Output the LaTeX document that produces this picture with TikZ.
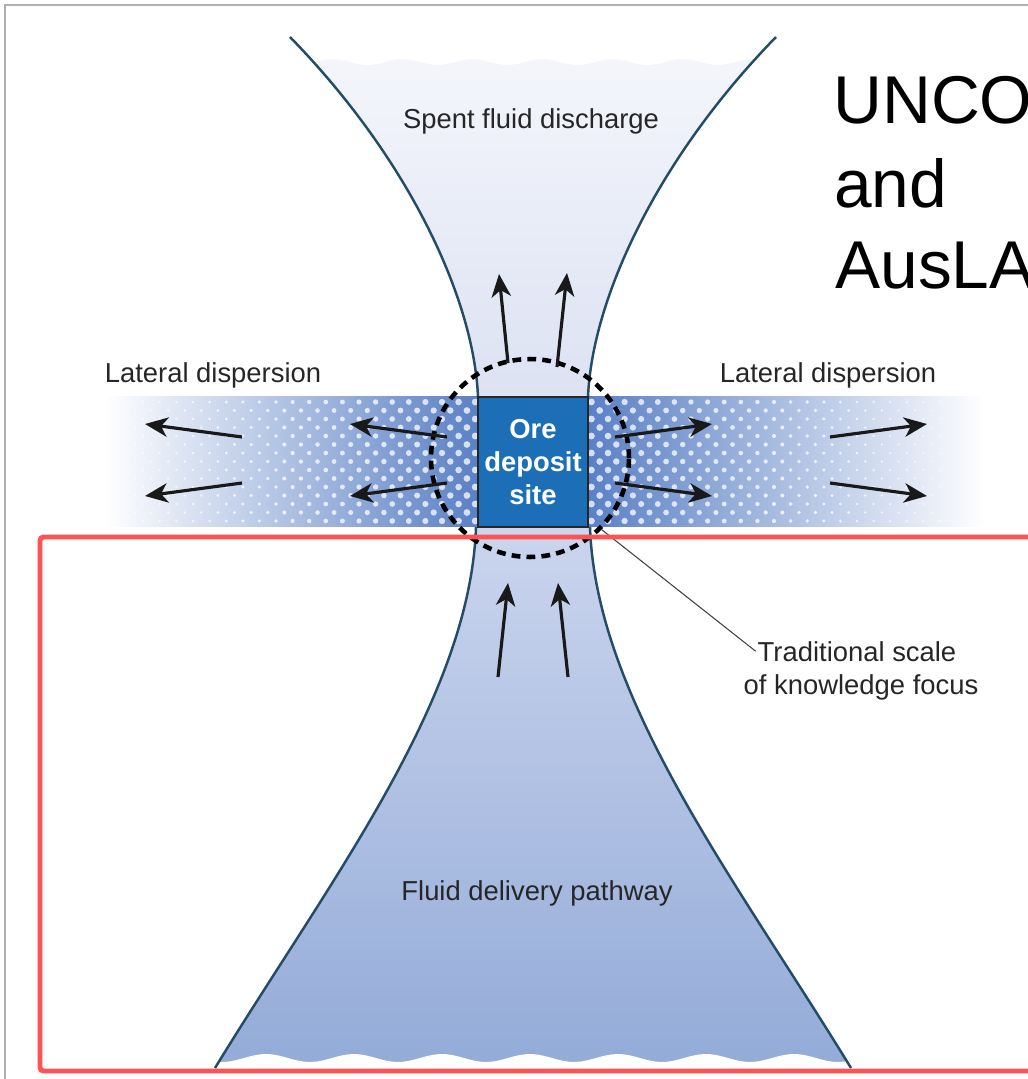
\documentclass[tikz,border=0pt]{standalone}
\usepackage{fontspec}
\setmainfont{Liberation Sans}
\usetikzlibrary{arrows.meta, positioning}
\definecolor{flowline}{HTML}{234C66}
\definecolor{oreblue}{HTML}{1C6EB6}
\definecolor{bandblue}{HTML}{5A80C5}
\definecolor{spenttop}{HTML}{F6F7FC}
\definecolor{spentbot}{HTML}{DCE2F3}
\definecolor{pathtop}{HTML}{CBD5EE}
\definecolor{pathbot}{HTML}{93ABD8}
\definecolor{markred}{HTML}{FF5252}
\definecolor{framegray}{HTML}{B0B0B0}

\begin{document}
\begin{tikzpicture}[
    x=0.02cm, y=-0.02cm,
    lbl/.style={
        inner sep=0pt,
        text=black!85,
        font=\fontsize{15.6}{18.7}\selectfont
    },
    bigtxt/.style={
        inner sep=0pt,
        anchor=base west,
        font=\fontsize{38.5}{46}\selectfont
    },
    ore/.style={
        rectangle,
        minimum width=2.2cm,
        minimum height=2.6cm,
        draw=black!85,
        line width=1.2pt,
        fill=oreblue,
        text=white,
        align=center,
        font=\bfseries\fontsize{15.6}{19}\selectfont
    },
    focus/.style={
        circle,
        minimum size=3.96cm,
        inner sep=0pt,
        draw=black,
        line width=2.6pt,
        dash pattern=on 5pt off 3.5pt
    },
    flow/.style={
        -{Stealth[length=13pt, width=11pt, inset=3.8pt]},
        line width=1.8pt,
        black!90
    },
    boundary/.style={
        draw=flowline,
        line width=1.4pt
    },
    leader/.style={
        line width=0.6pt,
        black!75
    }
]
\useasboundingbox (0,0) rectangle (1028,1079);

% Screen frame
\draw[framegray, line width=1.1pt] (5,1090) -- (5,5) -- (1040,5);

% Funnel fills
\fill[top color=spenttop, bottom color=spentbot]
    (290,37) .. controls (410,160) and (474,300) .. (478,397)
    -- (588,397) .. controls (592,300) and (656,160) .. (776,37) -- cycle;
\fill[top color=pathtop, bottom color=pathbot]
    (476,527) .. controls (470,700) and (330,880) .. (215,1068)
    -- (851,1068) .. controls (736,880) and (596,700) .. (590,527) -- cycle;

% Wavy edges
\fill[white] (280,20) -- plot[domain=280:790, samples=90] (\x, {62+3*sin((\x-280)/70*360)}) -- (790,20) -- cycle;
\fill[white] (200,1085) -- plot[domain=200:870, samples=110] (\x, {1058+4*sin((\x-200)/88*360)}) -- (870,1085) -- cycle;

% Lateral band
\fill[left color=white, right color=bandblue] (105,396) rectangle (478,526);
\fill[left color=bandblue, right color=white] (588,396) rectangle (985,526);
\foreach \i in {0,...,52}
    \foreach \j in {0,...,14} {
        \pgfmathsetmacro\xx{110+16.6*\i+mod(\j,2)*8.3}
        \pgfmathsetmacro\yy{402+8.5*\j}
        \pgfmathsetmacro\rr{max(0.2, 0.3+1.9*(1-abs(\xx-533)/450))}
        \fill[white, opacity=0.75] (\xx,\yy) circle[radius=\rr pt];
    }

% Funnel walls
\draw[boundary] (290,37) .. controls (410,160) and (474,300) .. (478,397);
\draw[boundary] (588,397) .. controls (592,300) and (656,160) .. (776,37);
\draw[boundary] (476,527) .. controls (470,700) and (330,880) .. (215,1068);
\draw[boundary] (590,527) .. controls (596,700) and (736,880) .. (851,1068);

% Deposit and focus
\node[ore] (ore) at (533,462) {Ore\\deposit\\site};
\node[focus] (focus) at (530,458) {};

% Flow arrows
\foreach \tx/\ty/\hx/\hy in {508/363/499/274, 557/367/567/273,
    498/677/508/583, 568/677/558/583,
    242/437/145/424, 242/483/145/496, 447/437/350/424, 447/483/350/496,
    615/437/712/424, 615/483/712/496, 830/437/927/424, 830/483/927/496}
    \draw[flow] (\tx,\ty) -- (\hx,\hy);

% Labels
\node[lbl, anchor=base] (spent) at (531,128) {Spent fluid discharge};
\node[lbl, anchor=base] (latleft) at (213,382) {Lateral dispersion};
\node[lbl, anchor=base] (latright) at (828,382) {Lateral dispersion};
\node[lbl, anchor=base] (delivery) at (537,900) {Fluid delivery pathway};
\node[lbl, anchor=base] (trad) at (857,661) {Traditional scale};
\node[lbl, anchor=base] (knowledge) at (861,694) {of knowledge focus};
\draw[leader] ([xshift=-1pt]trad.west) -- (focus.-45);

% Slide text
\node[bigtxt] (unco) at (833,123) {UNCO};
\node[bigtxt] (andtxt) at (834,207) {and};
\node[bigtxt] (auslab) at (835,288) {AusLA};

% Highlight
\draw[markred, line width=2.8pt, rounded corners=2pt] (40,537) rectangle (1050,1071);

\end{tikzpicture}
\end{document}
